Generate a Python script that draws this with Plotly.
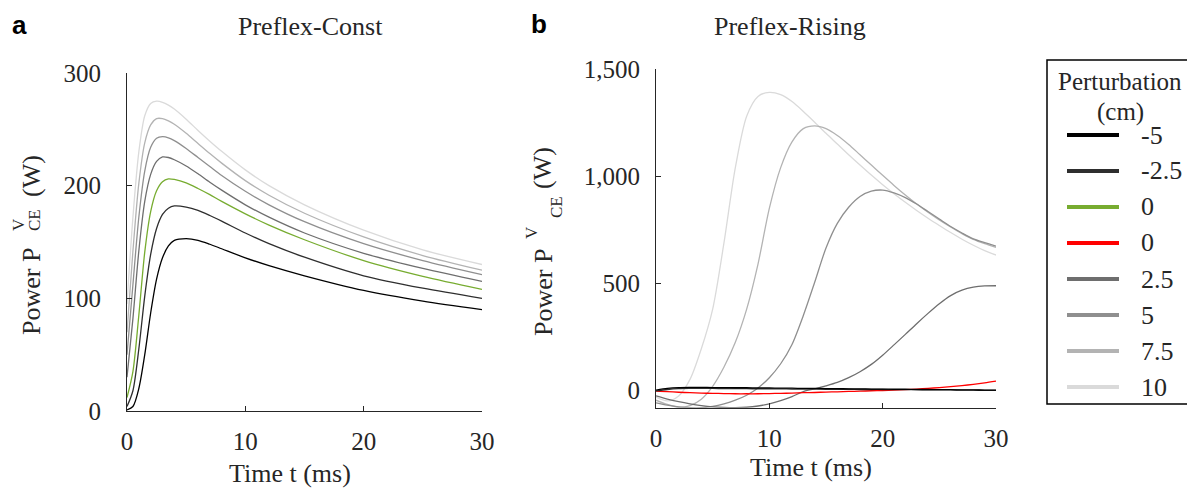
import plotly.graph_objects as go

W, H = 1195, 489
OFF = 8  # page body margin of the browser

# ---------------- data ----------------
t_a = [0, 0.5, 1, 1.5, 2, 2.5, 3, 3.5, 4, 5, 6, 7, 8, 10, 12, 15, 20, 25, 30]
a_m5 = [1, 4, 20, 50, 87, 117, 136, 146.5, 151.5, 153, 151.5, 148, 144, 136, 129, 120, 107, 97.5, 90]
a_m25 = [4, 18, 55, 102, 139, 162, 174.5, 180, 182, 181, 178, 173.5, 168.5, 158, 148.5, 136.5, 120, 109, 100]
a_0 = [12, 35, 85, 141, 177, 195.5, 203.5, 206, 205.5, 202.5, 197.5, 192, 186, 175, 165, 152, 133.5, 119.5, 108]
a_25 = [30, 82, 142, 186, 210, 221.5, 225.5, 225, 223, 217.5, 210.5, 203, 196, 183, 172, 158, 140, 126.5, 115]
a_5 = [50, 112, 172, 213, 234, 242, 243.5, 242.5, 240, 233, 225, 217, 209, 195, 183, 168, 148.5, 133.5, 121]
a_75 = [70, 142, 202, 238, 254, 259.5, 259.5, 257.5, 254.5, 246.5, 237.5, 228.5, 220, 204.5, 191.5, 175.5, 154.5, 138, 125]
a_10 = [95, 172, 230, 262, 273, 275, 274, 271.5, 268, 259, 249, 239.5, 230.5, 214, 200, 183, 160.5, 143, 130]

t_b = list(range(0, 31))
b_m5 = [2, 10, 14, 15, 15, 14, 14, 13, 13, 12, 12, 11, 11, 10, 10, 9, 9, 8, 8, 7, 7, 6, 6, 5, 5, 4, 4, 3, 3, 2, 2]
b_m25 = [-2, 5, 9, 10, 10, 10, 9, 9, 9, 8, 8, 8, 7, 7, 7, 6, 6, 6, 5, 5, 5, 4, 4, 4, 3, 3, 3, 2, 2, 1, 1]
b_0 = [-3, -5, -8, -10, -12, -13, -14, -15, -15, -15, -14, -13, -12, -10, -9, -7, -6, -4, -3, -1, 0, 2, 4, 7, 10, 14, 18, 23, 29, 36, 44]
b_25 = [-25, -40, -52, -62, -70, -76, -79, -80, -78, -72, -62, -47, -28, -5, 8, 22, 38, 60, 88, 122, 165, 213, 262, 312, 360, 405, 443, 468, 482, 488, 489]
b_5 = [-57, -68, -76, -80, -80, -74, -62, -45, -22, 12, 60, 125, 215, 350, 505, 665, 780, 855, 905, 930, 935, 922, 900, 870, 835, 800, 765, 735, 708, 690, 674]
b_75 = [-45, -65, -78, -70, -40, 20, 110, 225, 380, 590, 850, 1040, 1160, 1222, 1235, 1222, 1190, 1148, 1100, 1052, 1004, 957, 912, 870, 832, 796, 763, 732, 705, 685, 668]
b_10 = [-30, -48, -25, 52, 195, 380, 690, 1040, 1280, 1372, 1391, 1380, 1348, 1302, 1252, 1200, 1150, 1100, 1052, 1005, 960, 918, 878, 840, 804, 770, 737, 706, 678, 653, 632]

legend_labels = ["-5", "-2.5", "0", "0", "2.5", "5", "7.5", "10"]
legend_colors = ["#000000", "#2e2e2e", "#77ac30", "#ff0000", "#6e6e6e", "#8f8f8f", "#b3b3b3", "#dadada"]

yticks_a = [0, 100, 200, 300]
yticks_b = [0, 500, 1000, 1500]
xticks = [0, 10, 20, 30]

# ---------------- helpers (screen pixels -> paper) ----------------
def px(x):
    return (x - OFF) / W


def py(y):
    return 1 - (y - OFF) / H


SERIF = "Liberation Serif"
AX = "#262626"

fig = go.Figure()

series_a = [(a_m5, 0), (a_m25, 1), (a_0, 2), (a_25, 4), (a_5, 5), (a_75, 6), (a_10, 7)]
series_b = [(b_m5, 0), (b_m25, 1), (b_0, 3), (b_25, 4), (b_5, 5), (b_75, 6), (b_10, 7)]

for vals, ci in reversed(series_a):
    fig.add_trace(go.Scatter(x=t_a, y=vals, mode="lines", xaxis="x", yaxis="y",
                             line=dict(color=legend_colors[ci], width=1.3, shape="spline", smoothing=0.8),
                             showlegend=False, hoverinfo="skip"))
for vals, ci in reversed(series_b):
    fig.add_trace(go.Scatter(x=t_b, y=vals, mode="lines", xaxis="x2", yaxis="y2",
                             line=dict(color=legend_colors[ci], width=1.3, shape="spline", smoothing=0.8),
                             showlegend=False, hoverinfo="skip"))

axis_common = dict(showgrid=False, zeroline=False, showline=True, linecolor=AX, linewidth=1,
                   ticks="inside", ticklen=5, tickcolor=AX, tickwidth=1, automargin=False,
                   tickfont=dict(family=SERIF, size=25, color=AX))

fig.update_layout(
    width=W, height=H, margin=dict(l=0, r=0, t=0, b=0),
    paper_bgcolor="white", plot_bgcolor="white", showlegend=False,
    xaxis=dict(domain=[px(127), px(482)], range=[0, 30], tickvals=xticks, anchor="y",
               ticklabelstandoff=8, **axis_common),
    yaxis=dict(domain=[py(411), py(73)], range=[0, 300], tickvals=yticks_a, anchor="x",
               ticklabelstandoff=20, **axis_common),
    xaxis2=dict(domain=[px(656), px(996)], range=[0, 30], tickvals=xticks, anchor="y2",
                ticklabelstandoff=8, **axis_common),
    yaxis2=dict(domain=[py(407.7), py(69)], range=[-80, 1500], tickvals=yticks_b, anchor="x2",
                tickformat=",d", ticklabelstandoff=10, **axis_common),
)

ann = []


def A(text, x, y, size=26, angle=0, xa="center", ya="middle", family=SERIF, color=AX):
    ann.append(dict(text=text, x=px(x), y=py(y), xref="paper", yref="paper", showarrow=False,
                    textangle=angle, xanchor=xa, yanchor=ya,
                    font=dict(family=family, size=size, color=color)))


# panel letters and titles
A("<b>a</b>", 19, 25, size=26, family="Liberation Sans", color="#000000")
A("<b>b</b>", 539, 24, size=26, family="Liberation Sans", color="#000000")
A("Preflex-Const", 310, 27)
A("Preflex-Rising", 790, 27)

# x titles
A("Time t (ms)", 290, 473)
A("Time t (ms)", 811, 467)

# y titles panel a
A("Power P", 31, 292, angle=-90)
A("V", 19, 225, size=17, angle=-90)
A("CE", 34, 220, size=17, angle=-90)
A("(W)", 31, 176, angle=-90)
# y titles panel b
A("Power P", 543, 293, angle=-90)
A("V", 531, 233, size=17, angle=-90)
A("CE", 557, 207, size=17, angle=-90)
A("(W)", 543, 168, angle=-90)

# legend
shapes = [dict(type="rect", xref="paper", yref="paper", x0=px(1047), x1=px(1192), y0=py(404), y1=py(60),
               line=dict(color="#000000", width=1.5), fillcolor="white", layer="below")]
A("Perturbation", 1120, 81, size=25)
A("(cm)", 1120, 112, size=25)
for i, (lab, col) in enumerate(zip(legend_labels, legend_colors)):
    yy = 135 + i * 36
    shapes.append(dict(type="line", xref="paper", yref="paper", x0=px(1067), x1=px(1119), y0=py(yy), y1=py(yy),
                       line=dict(color=col, width=4)))
    A(lab, 1139, yy, xa="left")

fig.update_layout(annotations=ann, shapes=shapes)
fig.write_html("out.html")
